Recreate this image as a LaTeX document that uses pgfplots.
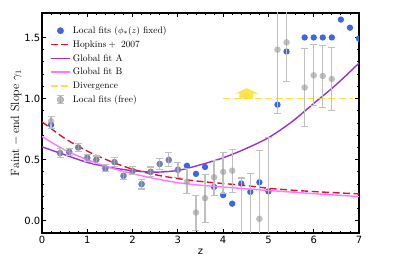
\documentclass[border=0pt]{standalone}
\usepackage{pgfplots}
\pgfplotsset{compat=1.18}
\usepackage{pgfplotstable}
\usepackage{fontspec}
\newfontfamily\dejavu{DejaVu Sans}
\definecolor{ptblue}{RGB}{59,104,226}
\definecolor{hopred}{RGB}{220,20,60}
\definecolor{fitA}{RGB}{153,50,204}
\definecolor{fitB}{RGB}{255,120,255}
\definecolor{divyel}{RGB}{255,215,0}
\definecolor{errgray}{RGB}{192,192,192}
\definecolor{ptgray}{RGB}{150,150,150}

\pgfplotsset{
  longline/.style={legend image code/.code={\draw[##1] (0cm,0cm) -- (0.68cm,0cm);}},
  graylegend/.style={legend image code/.code={
    \draw[errgray, line width=1.3pt] (0.34cm,-0.15cm) -- (0.34cm,0.15cm);
    \draw[errgray, line width=1.1pt] (0.22cm,-0.15cm) -- (0.46cm,-0.15cm);
    \draw[errgray, line width=1.1pt] (0.22cm,0.15cm) -- (0.46cm,0.15cm);
    \fill[ptgray, fill opacity=0.6] (0.34cm,0cm) circle (3.3pt);}},
  bluelegend/.style={legend image code/.code={
    \fill[ptblue] (0.34cm,0cm) circle (3.2pt);}},
}

\pgfplotstableread{
x y
0.2 0.785
0.4 0.553
0.6 0.563
0.8 0.600
1.0 0.515
1.2 0.500
1.4 0.428
1.6 0.480
1.8 0.367
2.0 0.407
2.2 0.300
2.4 0.400
2.6 0.465
2.8 0.497
3.0 0.418
3.2 0.450
3.4 0.384
3.6 0.440
3.8 0.277
4.0 0.210
4.2 0.140
4.4 0.305
4.6 0.236
4.8 0.315
5.0 0.240
5.2 0.950
5.4 1.385
5.8 1.500
6.0 1.500
6.2 1.500
6.4 1.500
6.6 1.646
6.8 1.580
7.0 1.490
}\fixedfits

\pgfplotstableread{
x y ep em
0.2 0.815 0.040 0.060
0.4 0.555 0.035 0.035
0.6 0.565 0.030 0.030
0.8 0.600 0.035 0.035
1.0 0.515 0.030 0.030
1.2 0.500 0.030 0.030
1.4 0.430 0.030 0.030
1.6 0.480 0.035 0.035
1.8 0.370 0.035 0.035
2.0 0.410 0.035 0.035
2.2 0.300 0.040 0.040
2.4 0.400 0.040 0.040
2.6 0.465 0.045 0.045
2.8 0.500 0.055 0.055
3.0 0.415 0.060 0.060
3.2 0.320 0.110 0.095
3.4 0.068 0.140 0.150
3.6 0.185 0.190 0.200
3.8 0.356 0.140 0.146
4.0 0.400 0.155 0.175
4.2 0.410 0.170 0.180
4.4 -0.300 0.650 0.300
4.6 -0.300 0.690 0.300
4.8 0.016 0.557 0.300
5.0 -0.300 0.980 0.300
5.2 1.400 0.500 0.520
5.4 1.460 0.500 0.320
5.8 1.090 0.320 0.315
6.0 1.190 0.250 0.245
6.2 1.185 0.250 0.255
6.4 1.160 0.260 0.255
}\freefits

\pgfplotstableread{
x y
0.0 0.810
0.5 0.675
1.0 0.570
1.5 0.488
2.0 0.422
2.5 0.377
3.0 0.345
3.5 0.322
4.0 0.305
4.5 0.288
5.0 0.266
5.5 0.251
6.0 0.239
6.5 0.229
7.0 0.220
}\hopkins

\pgfplotstableread{
x y
0.0 0.605
0.5 0.540
1.0 0.478
1.5 0.437
2.0 0.410
2.5 0.398
3.0 0.412
3.5 0.458
4.0 0.515
4.5 0.590
5.0 0.680
5.5 0.805
6.0 0.960
6.5 1.115
7.0 1.290
}\fitA

\pgfplotstableread{
x y
0.0 0.690
0.5 0.580
1.0 0.500
1.5 0.435
2.0 0.385
2.5 0.345
3.0 0.312
3.5 0.291
4.0 0.276
4.5 0.262
5.0 0.248
5.5 0.235
6.0 0.222
6.5 0.210
7.0 0.198
}\fitB

\pgfplotstableread{
x y
4.0 1.0
6.86 1.0
}\diverg

\begin{document}
\begin{tikzpicture}
\path[use as bounding box] (-42bp,-33bp) rectangle (357bp,233bp);
\begin{axis}[
  at={(0,0)}, anchor=south west,
  scale only axis, width=317bp, height=220bp,
  xmin=0, xmax=7, ymin=-0.1, ymax=1.7,
  xtick={0,1,2,3,4,5,6,7},
  ytick={0,0.5,1,1.5},
  minor x tick num=4, minor y tick num=4,
  tick align=inside,
  major tick length=4bp, minor tick length=2bp,
  axis line style={line width=1.1pt},
  every tick/.style={black, line width=0.8pt},
  /pgf/number format/assume math mode=true,
  tick label style={font=\dejavu\fontsize{10}{12}\selectfont},
  yticklabel style={/pgf/number format/.cd, fixed, fixed zerofill, precision=1, /tikz/.cd, inner xsep=1.5pt},
  xticklabel style={/pgf/number format/.cd, fixed, precision=0},
  xlabel={\dejavu\fontsize{10}{12}\selectfont z},
  xlabel style={yshift=2pt},
  ylabel={\fontsize{12}{14}\selectfont $\mathrm{Faint-end\ Slope\ }\gamma_1$},
  ylabel style={yshift=-2pt},
  clip marker paths=true,
  legend cell align=left,
  legend style={draw=none, fill=none, at={(0.015,0.958)}, anchor=north west,
    font=\fontsize{9.5}{11}\selectfont, row sep=1.6pt,
    /tikz/every even column/.append style={column sep=2pt}},
]
\addplot[ptblue, only marks, mark=*, mark size=3.2pt, mark options={draw=ptblue, fill=ptblue, draw opacity=0}, bluelegend]
  table[x=x, y=y] {\fixedfits};
\addlegendentry{Local fits ($\phi_*(z)$ fixed)}

\addplot[hopred, line width=1.4pt, dash pattern=on 7bp off 3.5bp, smooth, longline]
  table[x=x, y=y] {\hopkins};
\addlegendentry{$\mathrm{Hopkins+\ 2007}$}

\addplot[fitA, line width=1.4pt, smooth, longline]
  table[x=x, y=y] {\fitA};
\addlegendentry{Global fit A}

\addplot[fitB, line width=1.4pt, smooth, longline]
  table[x=x, y=y] {\fitB};
\addlegendentry{Global fit B}

\addplot[divyel, opacity=0.75, line width=1.7pt, dash pattern=on 7bp off 3.5bp, longline]
  table[x=x, y=y] {\diverg};
\addlegendentry{Divergence}

\addplot[ptgray, only marks, mark=*, mark size=3.3pt, graylegend,
  mark options={draw=ptgray, draw opacity=0, fill=ptgray, fill opacity=0.6},
  error bars/.cd, y dir=both, y explicit,
  error bar style={errgray, line width=1.3pt},
  error mark options={errgray, rotate=90, mark size=3.5pt, line width=1.1pt},
  ]
  table[x=x, y=y, y error plus=ep, y error minus=em] {\freefits};
\addlegendentry{Local fits (free)}

\fill[divyel, opacity=0.7] (axis cs:4.36,1.0) -- (axis cs:4.36,1.04) -- (axis cs:4.26,1.04)
  -- (axis cs:4.52,1.085) -- (axis cs:4.78,1.04) -- (axis cs:4.67,1.04) -- (axis cs:4.67,1.0) -- cycle;
\end{axis}
\end{tikzpicture}
\end{document}
